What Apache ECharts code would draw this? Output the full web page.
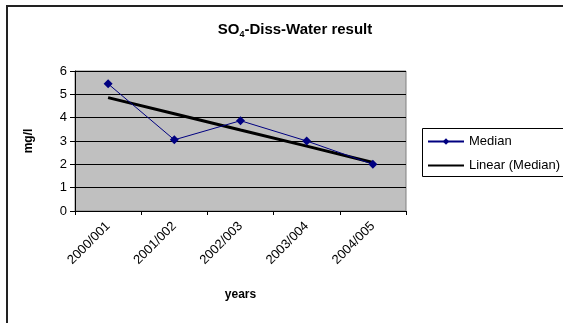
<!DOCTYPE html>
<html>
<head>
<meta charset="utf-8">
<script src="https://cdn.jsdelivr.net/npm/echarts@6/dist/echarts.min.js"></script>
<style>
  html, body { margin: 0; padding: 0; background: #fff; }
  #chart { width: 563px; height: 323px; }
</style>
</head>
<body>
<div id="chart"></div>
<script>
const categories = ['2000/001', '2001/002', '2002/003', '2003/004', '2004/005'];
const medianValues = [5.45, 3.05, 3.87, 3.0, 2.0];
const trendValues = [4.86, 4.17, 3.47, 2.78, 2.08];
const yTicks = [0, 1, 2, 3, 4, 5, 6];

function renderChart() {
  const dom = document.getElementById('chart');
  const chart = echarts.init(dom);
  const option = {
    animation: false,
    textStyle: { fontFamily: 'Liberation Sans, Arial, sans-serif' },
    title: {
      text: '{a|SO}{b|4}{a|-Diss-Water result}',
      left: 290,
      top: 16,
      textAlign: 'center',
      textStyle: {
        rich: {
          a: { fontSize: 15, fontWeight: 'bold', color: '#000', fontFamily: 'Liberation Sans' },
          b: { fontSize: 9, fontWeight: 'bold', color: '#000', fontFamily: 'Liberation Sans', padding: [9, 0, 0, 0] }
        }
      }
    },
    graphic: [
      {
        type: 'rect',
        shape: { x: 7, y: 6, width: 620, height: 400 },
        style: { fill: 'none', stroke: '#222', lineWidth: 2 },
        z: -10
      },
      {
        type: 'rect',
        shape: { x: 422.5, y: 128.5, width: 200, height: 48 },
        style: { fill: '#fff', stroke: '#000', lineWidth: 1 },
        z: 0
      }
    ],
    legend: {
      orient: 'vertical',
      left: 427,
      top: 135,
      itemWidth: 36,
      itemHeight: 8,
      itemGap: 11,
      padding: 0,
      z: 5,
      textStyle: { fontSize: 13, color: '#000', fontFamily: 'Liberation Sans' },
      data: [
        { name: 'Median' },
        { name: 'Linear (Median)', itemStyle: { opacity: 0 } }
      ]
    },
    grid: {
      left: 75,
      top: 71,
      width: 331,
      height: 140,
      show: true,
      backgroundColor: '#c0c0c0',
      borderColor: '#808080',
      borderWidth: 1
    },
    xAxis: {
      type: 'category',
      data: categories,
      boundaryGap: true,
      name: 'years',
      nameLocation: 'middle',
      nameGap: 78,
      nameTextStyle: { fontSize: 12, fontWeight: 'bold', color: '#000' },
      axisLine: { lineStyle: { color: '#000', width: 1 } },
      axisTick: { show: true, length: 4, lineStyle: { color: '#000' } },
      axisLabel: { rotate: 45, fontSize: 13, color: '#000', margin: 13 }
    },
    yAxis: {
      type: 'value',
      min: yTicks[0],
      max: yTicks[yTicks.length - 1],
      interval: 1,
      name: 'mg/l',
      nameLocation: 'middle',
      nameRotate: 90,
      nameGap: 40,
      nameTextStyle: { fontSize: 12, fontWeight: 'bold', color: '#000' },
      axisLine: { show: true, lineStyle: { color: '#000', width: 1 } },
      axisTick: { show: true, length: 5, lineStyle: { color: '#000' } },
      axisLabel: { fontSize: 13, color: '#000', margin: 8 },
      splitLine: { show: true, lineStyle: { color: '#000', width: 1 } }
    },
    series: [
      {
        name: 'Median',
        type: 'line',
        data: medianValues,
        symbol: 'diamond',
        symbolSize: 9,
        lineStyle: { color: '#000080', width: 1 },
        itemStyle: { color: '#000080' },
        z: 3
      },
      {
        name: 'Linear (Median)',
        type: 'line',
        data: trendValues,
        symbol: 'none',
        lineStyle: { color: '#000', width: 3 },
        itemStyle: { color: '#000' },
        z: 2
      }
    ]
  };
  chart.setOption(option, true);
}
renderChart();
</script>
</body>
</html>
